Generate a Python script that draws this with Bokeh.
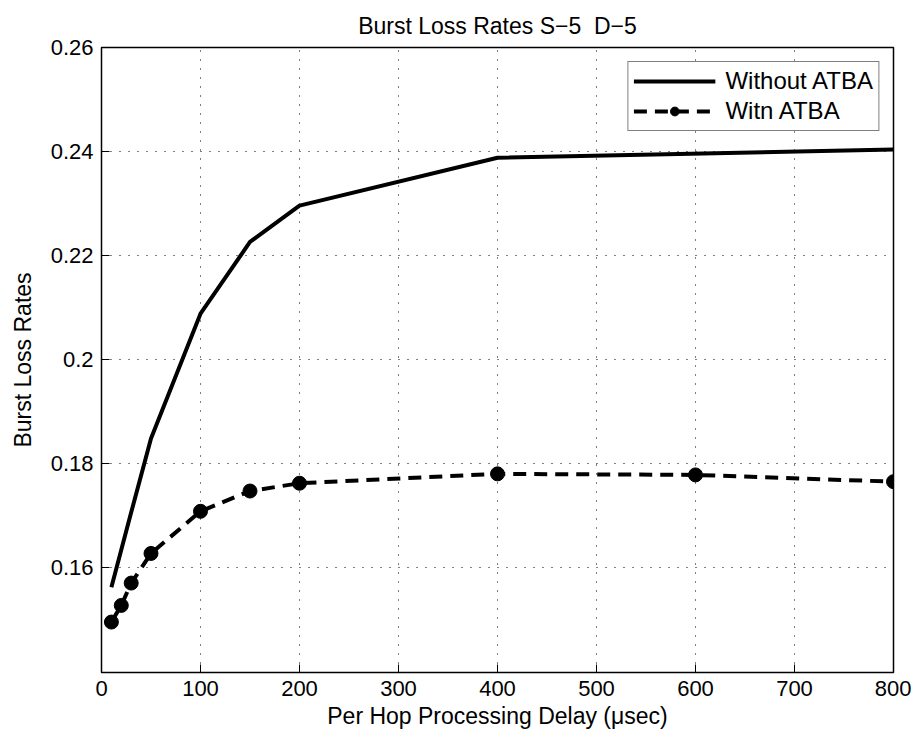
from bokeh.plotting import figure
from bokeh.models import Range1d, FixedTicker, CustomJSTickFormatter, Legend, LegendItem
from bokeh.embed import file_html
from bokeh.resources import INLINE

# data
delay_without = [10, 20, 30, 50, 100, 150, 200, 400, 800]
rate_without = [0.1562, 0.1634, 0.1706, 0.1848, 0.2088, 0.2226, 0.2296, 0.2388, 0.2404]
delay_with = [10, 20, 30, 50, 100, 150, 200, 400, 600, 800]
rate_with = [0.1495, 0.1527, 0.1570, 0.1627, 0.1708, 0.1747, 0.1762, 0.1780, 0.1778, 0.1765]
x_ticks = [0, 100, 200, 300, 400, 500, 600, 700, 800]
y_ticks = [0.16, 0.18, 0.20, 0.22, 0.24, 0.26]

FONT = "Liberation Sans"

p = figure(width=911, height=732, output_backend="svg", toolbar_location=None,
           x_range=Range1d(0, 800), y_range=Range1d(0.1398, 0.26),
           min_border_left=101, min_border_right=18, min_border_top=47, min_border_bottom=60)

p.title.text = "Burst Loss Rates S\u22125\u00a0 D\u22125"
p.title.text_font = FONT
p.title.text_font_size = "23px"
p.title.text_font_style = "normal"
p.title.text_color = "black"
p.title.align = "center"
p.title.offset = 0
p.title.standoff = 18

fmt = CustomJSTickFormatter(code="return parseFloat(tick.toFixed(2)).toString();")

for ax in [p.xaxis[0], p.yaxis[0]]:
    ax.major_label_text_font = FONT
    ax.major_label_text_font_size = "22px"
    ax.axis_label_text_font = FONT
    ax.axis_label_text_font_size = "23px"
    ax.axis_label_text_font_style = "normal"
    ax.major_tick_in = 8
    ax.major_tick_out = 0
    ax.minor_tick_line_color = None
    ax.axis_line_color = "black"
    ax.major_tick_line_color = "black"
    ax.major_label_text_color = "black"
    ax.axis_label_text_color = "black"

p.xaxis[0].ticker = FixedTicker(ticks=x_ticks)
p.yaxis[0].ticker = FixedTicker(ticks=y_ticks)
p.yaxis[0].formatter = fmt
p.xaxis[0].axis_label = "Per Hop Processing Delay (\u03bcsec)"
p.yaxis[0].axis_label = "Burst Loss Rates"
p.xaxis[0].major_label_standoff = 8
p.yaxis[0].major_label_standoff = 8
p.xaxis[0].axis_label_standoff = 4
p.yaxis[0].axis_label_standoff = 12

p.xgrid.ticker = FixedTicker(ticks=x_ticks)
p.ygrid.ticker = FixedTicker(ticks=y_ticks)
for g in [p.xgrid, p.ygrid]:
    g.grid_line_color = "black"
    g.grid_line_dash = "1 8"
    g.grid_line_width = 1

p.outline_line_color = "black"
p.outline_line_width = 1.5
p.background_fill_color = "white"
p.border_fill_color = "white"

r1 = p.line(delay_without, rate_without, line_color="black", line_width=4)
r2 = p.line(delay_with, rate_with, line_color="black", line_width=4, line_dash="13 8")
r3 = p.scatter(delay_with, rate_with, marker="circle", size=14, fill_color="black", line_color="black")

legend = Legend(items=[LegendItem(label="Without ATBA", renderers=[r1]),
                       LegendItem(label="Witn ATBA", renderers=[r2, r3])],
                location="top_right", margin=14, padding=5,
                label_text_font=FONT, label_text_font_size="24px", label_text_color="black",
                glyph_width=82, glyph_height=22, label_height=22, spacing=2,
                label_standoff=10, border_line_color="black", border_line_width=1.5,
                background_fill_alpha=1)
p.add_layout(legend, "center")

open("out.html", "w").write(file_html(p, INLINE))
